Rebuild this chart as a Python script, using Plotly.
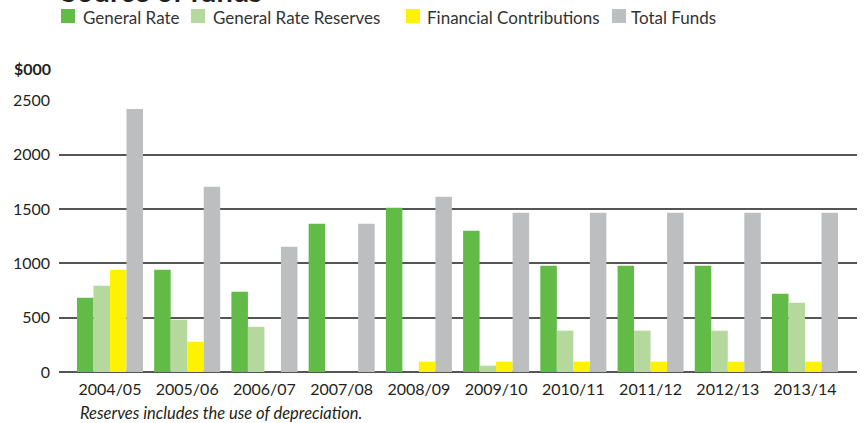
import plotly.graph_objects as go

categories = ["2004/05", "2005/06", "2006/07", "2007/08", "2008/09",
              "2009/10", "2010/11", "2011/12", "2012/13", "2013/14"]
general_rate = [683, 940, 738, 1363, 1510, 1299, 977, 977, 977, 720]
general_rate_reserves = [793, 481, 416, 0, 0, 58, 380, 380, 380, 637]
financial_contributions = [940, 278, 0, 0, 95, 95, 95, 95, 95, 95]
total_funds = [2420, 1703, 1152, 1363, 1611, 1464, 1464, 1464, 1464, 1464]

series_names = ["General Rate", "General Rate Reserves", "Financial Contributions", "Total Funds"]
series_values = [general_rate, general_rate_reserves, financial_contributions, total_funds]
series_colors = ["#62bb46", "#b5d99c", "#fff200", "#bcbec0"]

W, H = 864, 423
L, R, T, B = 59, 7, 100, 51
PW, PH = W - L - R, H - T - B
TXT = "#231f20"
FONT = "Lato"


def px_x(px):
    return (px - L) / PW


def px_y(py):
    return (H - B - py) / PH


fig = go.Figure()
for name, vals, col in zip(series_names, series_values, series_colors):
    fig.add_trace(go.Bar(x=categories, y=vals, name=name, marker_color=col,
                         marker_line_width=0, showlegend=False))

annotations = []
shapes = []
# custom legend (positions)
legend_sq = [61, 191, 406, 612]
legend_txt = [81, 211, 425, 629]
for i, name in enumerate(series_names):
    shapes.append(dict(type="rect", xref="paper", yref="paper",
                       x0=px_x(legend_sq[i]), x1=px_x(legend_sq[i] + 14),
                       y0=px_y(23), y1=px_y(9),
                       fillcolor=series_colors[i], line_width=0))
    annotations.append(dict(text=name, xref="paper", yref="paper",
                            x=px_x(legend_txt[i]), y=px_y(17.5),
                            xanchor="left", yanchor="middle", showarrow=False,
                            font=dict(family=FONT, size=17, color="#333333")))

# title (cut off at top in the reference)
annotations.append(dict(text="<b>Source of funds</b>", xref="paper", yref="paper",
                        x=px_x(59), y=px_y(-9.5), xanchor="left", yanchor="middle",
                        showarrow=False, font=dict(family=FONT, size=29, color=TXT)))
# unit label
annotations.append(dict(text="<b>$000</b>", xref="paper", yref="paper",
                        x=px_x(12), y=px_y(68.5), xanchor="left", yanchor="middle",
                        showarrow=False, font=dict(family=FONT, size=16, color=TXT)))
# footnote
annotations.append(dict(text="<i>Reserves includes the use of depreciation.</i>",
                        xref="paper", yref="paper",
                        x=px_x(78), y=px_y(412.5), xanchor="left", yanchor="middle",
                        showarrow=False, font=dict(family=FONT, size=16.5, color=TXT)))

fig.update_layout(
    width=W, height=H,
    margin=dict(l=L, r=R, t=T, b=B, pad=0),
    paper_bgcolor="white", plot_bgcolor="white",
    barmode="group", bargap=0.145, bargroupgap=0,
    showlegend=False,
    font=dict(family=FONT, size=16, color=TXT),
    annotations=annotations, shapes=shapes,
    xaxis=dict(range=[-0.66, 9.673], showgrid=False, showline=False, zeroline=False,
               ticks="", tickfont=dict(family=FONT, size=16, color=TXT),
               ticklabelstandoff=6),
    yaxis=dict(range=[0, 2502], tickvals=[0, 500, 1000, 1500, 2000, 2500],
               showgrid=True, gridcolor="#555555", gridwidth=1.5,
               zeroline=True, zerolinecolor="#555555", zerolinewidth=2,
               showline=False, ticks="",
               tickfont=dict(family=FONT, size=16, color=TXT),
               ticklabelstandoff=8),
)

fig.write_html("out.html", config={"displayModeBar": False},
               post_script="document.body.style.margin='0';document.body.style.padding='0';")
